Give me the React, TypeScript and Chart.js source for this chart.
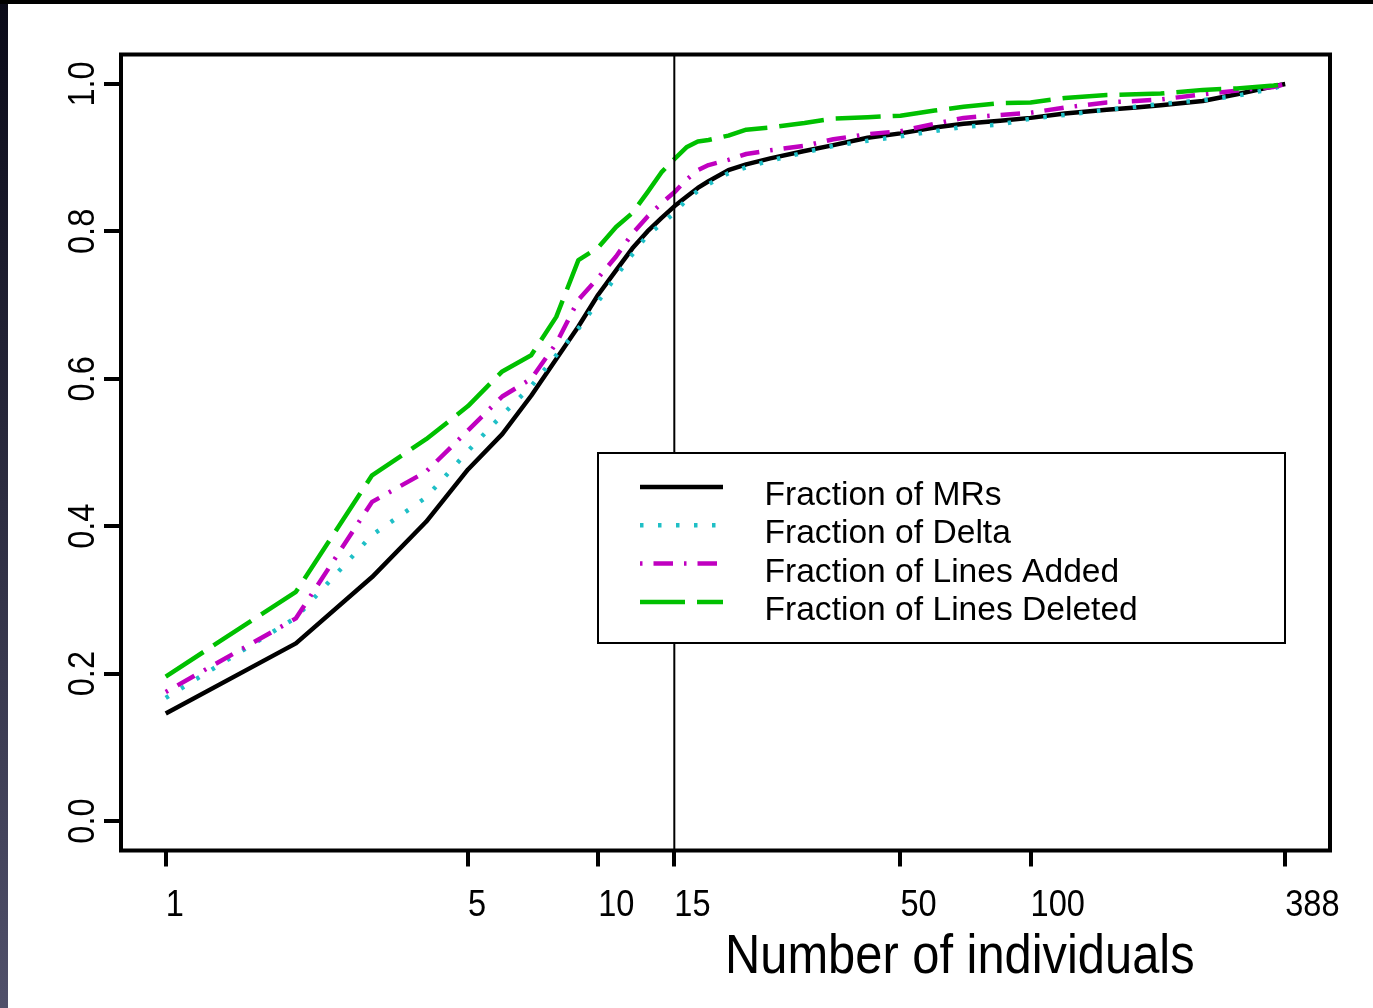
import React, { useEffect, useRef } from 'react';
import { Chart, registerables } from 'chart.js';

Chart.register(...registerables);

// ---- data ----
const individuals = [1, 2, 3, 4, 5, 6, 7, 8, 9, 10, 11, 12, 13, 14, 15, 16, 17, 18, 20, 22, 25, 30, 35, 42, 50, 60, 70, 85, 100, 120, 150, 175, 200, 250, 300, 365, 388];
const fracMRs = [0.146, 0.241, 0.331, 0.406, 0.477, 0.525, 0.577, 0.627, 0.671, 0.714, 0.747, 0.777, 0.800, 0.818, 0.834, 0.847, 0.859, 0.868, 0.883, 0.891, 0.899, 0.909, 0.917, 0.927, 0.933, 0.941, 0.946, 0.950, 0.954, 0.960, 0.965, 0.968, 0.971, 0.977, 0.986, 0.997, 1.0];
const fracDelta = [0.167, 0.276, 0.388, 0.439, 0.502, 0.551, 0.590, 0.632, 0.668, 0.705, 0.739, 0.769, 0.795, 0.810, 0.825, 0.843, 0.855, 0.864, 0.879, 0.887, 0.896, 0.907, 0.916, 0.923, 0.929, 0.936, 0.942, 0.945, 0.953, 0.958, 0.965, 0.969, 0.973, 0.978, 0.984, 0.994, 1.0];
const fracLinesAdded = [0.175, 0.275, 0.433, 0.474, 0.530, 0.576, 0.600, 0.648, 0.707, 0.737, 0.766, 0.797, 0.820, 0.838, 0.853, 0.870, 0.883, 0.890, 0.897, 0.905, 0.910, 0.916, 0.925, 0.932, 0.936, 0.946, 0.954, 0.958, 0.961, 0.968, 0.975, 0.977, 0.979, 0.986, 0.991, 0.996, 1.0];
const fracLinesDeleted = [0.196, 0.311, 0.469, 0.518, 0.563, 0.610, 0.632, 0.684, 0.761, 0.778, 0.806, 0.825, 0.853, 0.880, 0.898, 0.914, 0.922, 0.924, 0.930, 0.938, 0.941, 0.947, 0.953, 0.955, 0.957, 0.964, 0.969, 0.974, 0.975, 0.981, 0.985, 0.986, 0.987, 0.992, 0.994, 0.998, 1.0];

const seriesLabels = ['Fraction of MRs', 'Fraction of Delta', 'Fraction of Lines Added', 'Fraction of Lines Deleted'];
const xTickValues = [1, 5, 10, 15, 50, 100, 388];
const xTickLabels = ['1', '5', '10', '15', '50', '100', '388'];
const yTickValues = [0, 0.2, 0.4, 0.6, 0.8, 1.0];
const yTickLabels = ['0.0', '0.2', '0.4', '0.6', '0.8', '1.0'];
const xTitle = 'Number of individuals';
const cutoffIndividuals = 15;

// ---- styles ----
const seriesColors = ['#000000', '#1fbfc6', '#c000c0', '#00c000'];
const seriesDash: number[][] = [[], [3.5, 14.5], [2.5, 11, 19.5, 11], [45, 12]];
const FONT = '"Liberation Sans", Arial, Helvetica, sans-serif';

function drawText(ctx: CanvasRenderingContext2D, s: string, x: number, y: number, size: number, align: CanvasTextAlign, k: number, rot = 0) {
  ctx.save();
  ctx.translate(x, y);
  if (rot) ctx.rotate(rot);
  ctx.scale(k, 1);
  ctx.font = `${size}px ${FONT}`;
  ctx.fillStyle = '#000';
  ctx.textAlign = align;
  ctx.textBaseline = 'alphabetic';
  ctx.fillText(s, 0, 0);
  ctx.restore();
}

const decorPlugin = {
  id: 'decor',
  beforeDraw(chart: any) {
    const ctx = chart.ctx as CanvasRenderingContext2D;
    const W = chart.width, H = chart.height;
    ctx.save();
    ctx.fillStyle = '#ffffff';
    ctx.fillRect(0, 0, W, H);
    const g = ctx.createLinearGradient(0, 0, 0, H);
    g.addColorStop(0, '#0a0a18');
    g.addColorStop(1, '#50506a');
    ctx.fillStyle = g;
    ctx.fillRect(0, 0, 8, H);
    ctx.fillStyle = '#000';
    ctx.fillRect(0, 0, W, 4);
    ctx.restore();
  },
  afterDraw(chart: any) {
    const ctx = chart.ctx as CanvasRenderingContext2D;
    const { left, right, top, bottom } = chart.chartArea;
    const xs = chart.scales.x, ys = chart.scales.y;
    ctx.save();
    // vertical reference line
    const vx = xs.getPixelForValue(cutoffIndividuals);
    ctx.strokeStyle = '#000';
    ctx.lineWidth = 2;
    ctx.setLineDash([]);
    ctx.beginPath();
    ctx.moveTo(vx, top);
    ctx.lineTo(vx, bottom);
    ctx.stroke();

    // legend
    const lx0 = 598, ly0 = 453, lx1 = 1285, ly1 = 643;
    ctx.fillStyle = '#fff';
    ctx.fillRect(lx0, ly0, lx1 - lx0, ly1 - ly0);
    ctx.lineWidth = 2;
    ctx.strokeStyle = '#000';
    ctx.strokeRect(lx0, ly0, lx1 - lx0, ly1 - ly0);
    chart.data.datasets.forEach((ds: any, i: number) => {
      const ly = 487 + 38.3 * i;
      ctx.save();
      ctx.strokeStyle = ds.borderColor;
      ctx.lineWidth = ds.borderWidth;
      ctx.lineCap = 'butt';
      ctx.setLineDash(ds.borderDash || []);
      ctx.beginPath();
      ctx.moveTo(640, ly);
      ctx.lineTo(723, ly);
      ctx.stroke();
      ctx.restore();
      drawText(ctx, ds.label, 764.5, 505 + 38.3 * i, 33.6, 'left', 1);
    });

    // box
    ctx.setLineDash([]);
    ctx.lineWidth = 4;
    ctx.strokeStyle = '#000';
    ctx.strokeRect(left, top, right - left, bottom - top);

    // tick labels
    xTickValues.forEach((v, i) => {
      drawText(ctx, xTickLabels[i], xs.getPixelForValue(v), 916, 37, 'left', 0.88);
    });
    yTickValues.forEach((v, i) => {
      drawText(ctx, yTickLabels[i], 94, ys.getPixelForValue(v), 37, 'center', 0.88, -Math.PI / 2);
    });
    // axis title
    drawText(ctx, xTitle, 725, 973, 55.5, 'left', 0.88);
    ctx.restore();
  },
};

export default function App() {
  const ref = useRef<HTMLCanvasElement | null>(null);
  useEffect(() => {
    if (!ref.current) return;
    const allSeries = [fracMRs, fracDelta, fracLinesAdded, fracLinesDeleted];
    const chart = new Chart(ref.current, {
      type: 'line',
      data: {
        datasets: allSeries.map((vals, si) => ({
          label: seriesLabels[si],
          data: individuals.map((x, i) => ({ x, y: vals[i] })),
          borderColor: seriesColors[si],
          backgroundColor: seriesColors[si],
          borderWidth: 4.5,
          borderDash: seriesDash[si],
          borderCapStyle: 'butt' as const,
          borderJoinStyle: 'round' as const,
          pointRadius: 0,
          tension: 0,
          fill: false,
          order: 4 - si,
        })),
      },
      options: {
        responsive: false,
        animation: false,
        devicePixelRatio: 1,
        layout: { padding: { top: 54.5, right: 43, left: 0, bottom: 0 } },
        plugins: { legend: { display: false }, tooltip: { enabled: false }, title: { display: false } },
        scales: {
          x: {
            type: 'logarithmic',
            min: 0.788,
            max: 492.5,
            bounds: 'data',
            afterFit: (s: any) => { s.height = 157.5; },
            afterBuildTicks: (s: any) => { s.ticks = xTickValues.map((v) => ({ value: v })); },
            ticks: { display: false },
            grid: { drawOnChartArea: false, drawTicks: true, tickLength: 16, lineWidth: 4, color: '#000' },
            border: { display: false },
          },
          y: {
            type: 'linear',
            min: -0.04,
            max: 1.04,
            afterFit: (s: any) => { s.width = 121; },
            afterBuildTicks: (s: any) => { s.ticks = yTickValues.map((v) => ({ value: v })); },
            ticks: { display: false },
            grid: { drawOnChartArea: false, drawTicks: true, tickLength: 17, lineWidth: 4, color: '#000' },
            border: { display: false },
          },
        },
      } as any,
      plugins: [decorPlugin],
    });
    return () => chart.destroy();
  }, []);
  return (
    <div style={{ position: 'absolute', left: 0, top: 0, width: 1373, height: 1008 }}>
      <canvas ref={ref} width={1373} height={1008} style={{ display: 'block', width: 1373, height: 1008 }} />
    </div>
  );
}
